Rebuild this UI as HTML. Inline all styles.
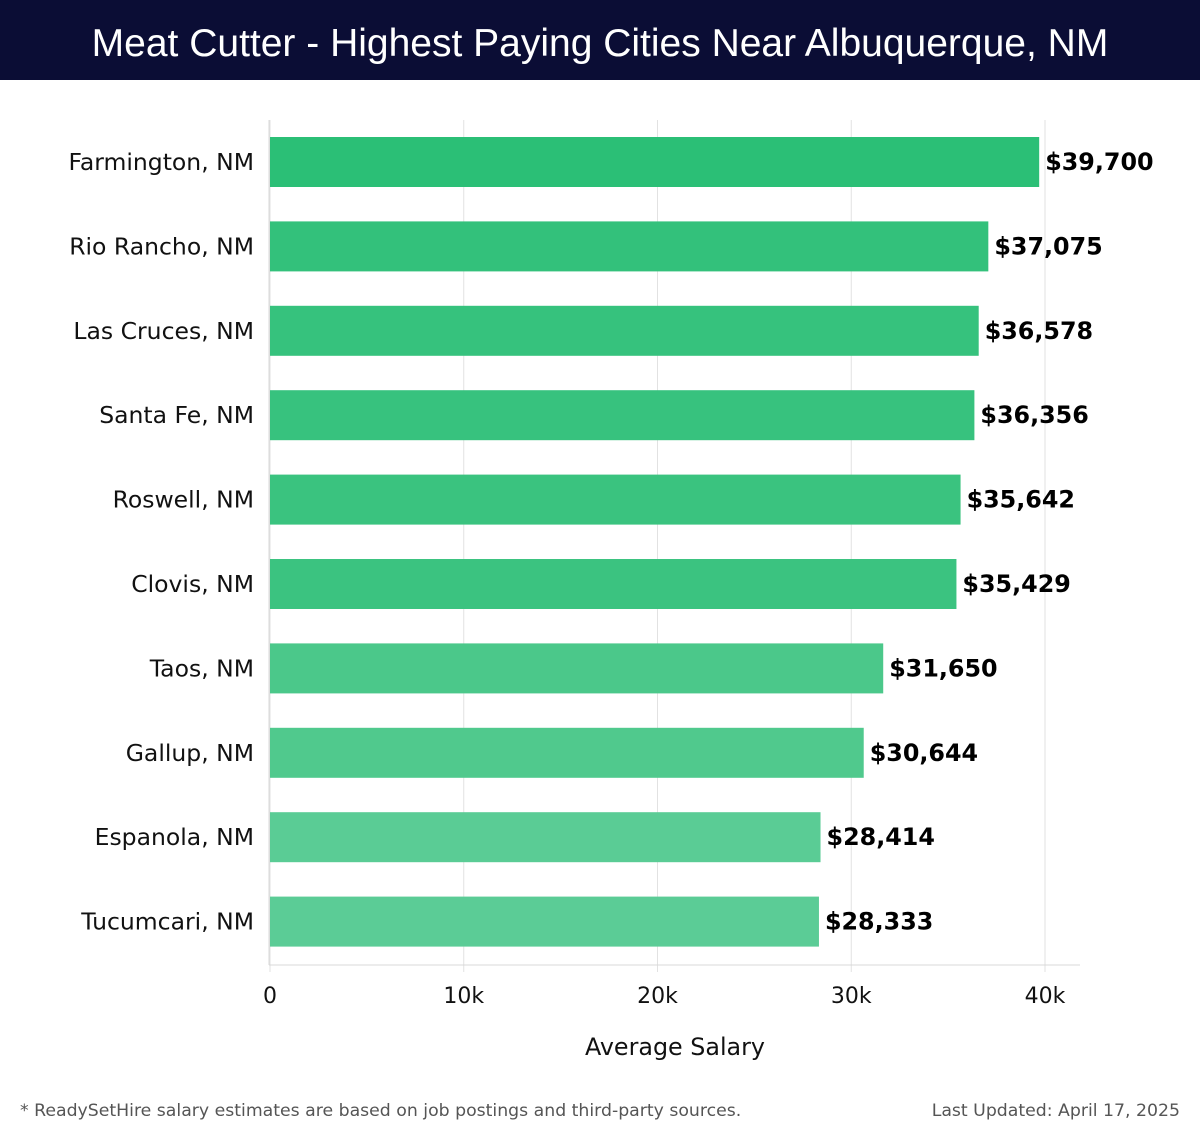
<!DOCTYPE html>
<html><head><meta charset="utf-8">
<style>
body{margin:0;width:1200px;height:1140px;background:#fff;font-family:"DejaVu Sans","Liberation Sans",sans-serif;overflow:hidden;position:relative}
#hdr{position:absolute;left:0;top:0;width:1200px;height:80px;background:#0b0d35;color:#fff;font-family:"Liberation Sans",sans-serif;font-size:39px;text-align:center;line-height:88px}
.foot{position:absolute;top:1101px;font-size:17.3px;color:#555}
</style></head><body>
<div id="hdr">Meat Cutter - Highest Paying Cities Near Albuquerque, NM</div>
<svg id="chart" width="1200" height="1140" style="position:absolute;left:0;top:0"></svg>
<div class="foot" style="left:20px">* ReadySetHire salary estimates are based on job postings and third-party sources.</div>
<div class="foot" style="right:20px">Last Updated: April 17, 2025</div>
<script>
const categories=["Farmington, NM","Rio Rancho, NM","Las Cruces, NM","Santa Fe, NM","Roswell, NM","Clovis, NM","Taos, NM","Gallup, NM","Espanola, NM","Tucumcari, NM"];
const values=[39700,37075,36578,36356,35642,35429,31650,30644,28414,28333];
const valueLabels=["$39,700","$37,075","$36,578","$36,356","$35,642","$35,429","$31,650","$30,644","$28,414","$28,333"];
const ticks=[0,10000,20000,30000,40000];
const tickLabels=["0","10k","20k","30k","40k"];
const colors=["#2bbf76","#33c17b","#36c27d","#37c27e","#3ac37f","#3bc380","#4bc88a","#50c98d","#5acc95","#5bcc96"];
const svg=document.getElementById('chart');const NS="http://www.w3.org/2000/svg";
const x=v=>270+v*(775/40000);
const y=i=>137+i*84.4;
function mk(t,a,txt){const e=document.createElementNS(NS,t);for(const k in a)e.setAttribute(k,a[k]);if(txt!==undefined)e.textContent=txt;svg.appendChild(e);return e;}
ticks.forEach((t,i)=>{
 const g=mk('line',{x1:x(t),x2:x(t),y1:120,y2:972,stroke:'#e2e2e2','stroke-width':1});
 
 
 const l=mk('text',{x:x(t),y:1003,'text-anchor':'middle','font-size':22,fill:'#111'},tickLabels[i]);
 
 
});
const ax=mk('line',{x1:269,x2:1080,y1:965,y2:965,stroke:'#d8d8d8','stroke-width':1});


const ay=mk('line',{x1:269,x2:269,y1:120,y2:965,stroke:'#d8d8d8','stroke-width':1});


categories.forEach((c,i)=>{
 const b=mk('rect',{x:270,y:y(i),width:x(values[i])-270,height:50,fill:colors[i]});
 
 
 const cl=mk('text',{x:254,y:y(i)+33,'text-anchor':'end','font-size':23.5,fill:'#111'},c);
 
 
 const vl=mk('text',{x:x(values[i])+6,y:y(i)+33,'font-size':23.8,'font-weight':'bold',fill:'#000'},valueLabels[i]);
 
 
});
const at=mk('text',{x:675,y:1055,'text-anchor':'middle','font-size':23.8,fill:'#111'},'Average Salary');


</script>
</body></html>
